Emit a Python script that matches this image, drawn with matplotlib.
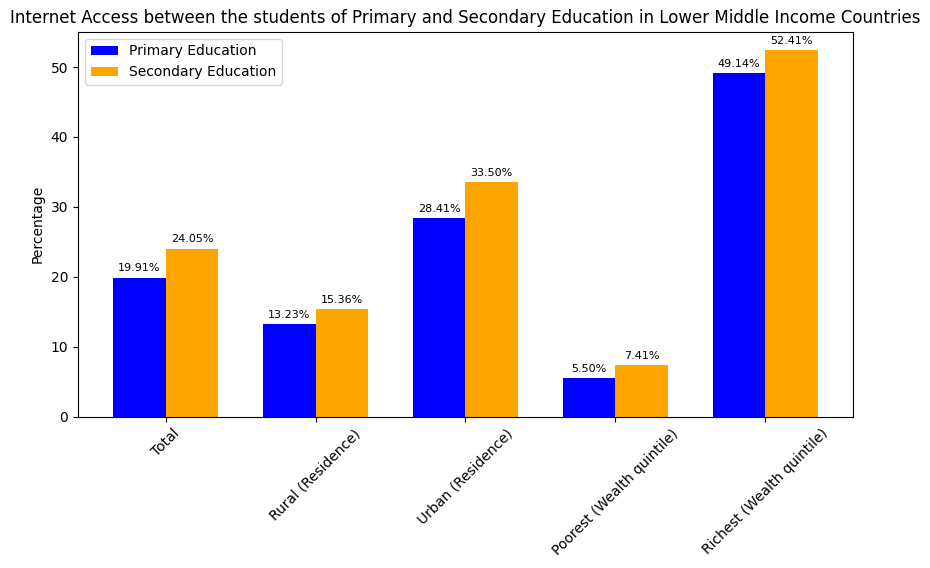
import matplotlib.pyplot as plt
import numpy as np

categories = ["Total", "Rural (Residence)", "Urban (Residence)",
              "Poorest (Wealth quintile)", "Richest (Wealth quintile)"]
primary = [19.91, 13.23, 28.41, 5.50, 49.14]
secondary = [24.05, 15.36, 33.50, 7.41, 52.41]

fig = plt.figure(figsize=(9.3, 5.68), dpi=100)
ax = fig.add_axes([0.0839, 0.266, 0.833, 0.678])
x = np.arange(len(categories))
w = 0.35
b1 = ax.bar(x - w / 2, primary, w, color="blue", label="Primary Education")
b2 = ax.bar(x + w / 2, secondary, w, color="orange", label="Secondary Education")
for bars in (b1, b2):
    for b in bars:
        h = b.get_height()
        ax.annotate(f"{h:.2f}%", (b.get_x() + b.get_width() / 2, h),
                    xytext=(0, 3), textcoords="offset points",
                    ha="center", va="bottom", fontsize=8)
ax.set_xticks(x)
ax.set_xticklabels(categories, rotation=45)
ax.set_ylabel("Percentage")
ax.set_title("Internet Access between the students of Primary and Secondary Education in Lower Middle Income Countries")
ax.legend(loc="upper left")
fig.savefig("out.png", dpi=100)
